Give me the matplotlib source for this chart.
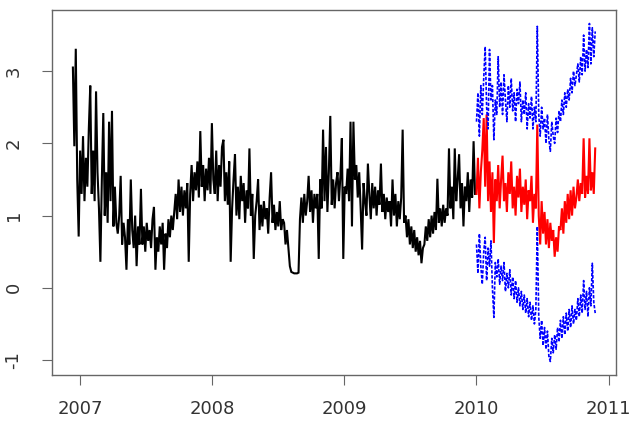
import numpy as np
import pandas as pd
import matplotlib
matplotlib.use('Agg')
import matplotlib.pyplot as plt

hist_start = '2006-12-12'
hist = [
    # Dec 2006 - Feb 2007
    3.05, 1.96, 3.31, 1.5, 0.71, 1.9, 1.3, 2.1, 1.2, 1.8, 1.4, 2.2, 2.8, 1.3, 1.9, 1.2, 2.72, 1.6,
    1.1, 0.36, 1.5, 2.42, 1.0, 1.6, 0.9, 2.3, 1.2, 2.45, 0.85, 1.4, 0.9,
    # spring / summer 2007
    0.75, 1.0, 1.55, 0.6, 0.9, 0.7, 0.25, 0.95, 0.6, 1.5, 0.8, 0.55, 1.0, 0.3, 0.85, 0.6, 1.37,
    0.6, 0.85, 0.5, 0.9, 0.65, 0.8, 0.55, 0.95, 1.12, 0.25, 0.7, 0.5, 0.85, 0.6, 0.9, 0.25, 0.75,
    0.55, 0.95, 0.7, 1.0, 0.8, 1.05,
    1.3, 0.95, 1.5, 1.05, 1.4, 1.0, 1.35, 1.1, 1.45, 0.36,
    # winter 2007/08
    1.3, 1.7, 1.2, 1.6, 1.35, 1.75, 1.25, 2.17, 1.4, 1.7, 1.2, 1.65, 1.35, 1.8, 1.3, 2.28, 1.5,
    1.3, 1.9, 1.2, 1.7, 1.4, 1.95, 2.05, 1.2, 1.6, 1.15, 1.75, 0.36,
    1.1, 1.5, 1.85, 1.0, 1.4, 0.95, 1.55, 1.2, 1.45, 0.9, 1.35, 1.1, 1.93, 1.0, 1.3, 0.4,
    # summer 2008 and the flat gap
    1.0, 1.2, 1.5, 0.8, 1.15, 0.85, 1.2, 0.95, 1.1, 0.75, 1.25, 1.6, 0.9, 1.15, 0.8, 1.05, 0.85,
    1.2, 0.8, 0.95,
    0.9, 0.6, 0.8, 0.55, 0.3,
    0.22, 0.21, 0.2, 0.2, 0.2, 0.21,
    # autumn 2008 - spring 2009
    0.95, 1.25, 0.9, 1.3, 1.0, 1.2, 1.55, 1.05, 1.35, 0.9, 1.3, 1.1,
    1.3, 0.4, 1.5, 1.1, 2.19, 1.2, 1.95, 1.05, 1.6, 2.38, 1.15, 1.5, 1.1, 1.45, 1.6, 1.2, 1.55,
    2.07, 0.4, 1.4,
    1.3, 1.65, 1.2, 2.3, 0.85, 2.3, 1.5, 1.7, 1.25, 1.6, 1.1, 0.53, 1.45,
    1.2, 1.0, 1.72, 1.3, 0.95, 1.45, 1.1, 1.4, 1.0, 1.35, 1.15, 1.72, 1.05, 1.3, 0.95, 1.25, 1.05,
    # summer - winter 2009
    1.2, 0.85, 1.5, 1.0, 1.3, 0.85, 1.2, 0.95, 1.25, 2.19, 0.9,
    1.0, 0.7, 0.95, 0.6, 0.85, 0.55, 0.8, 0.5, 0.7, 0.45, 0.65, 0.34, 0.55,
    0.6, 0.85, 0.65, 0.95, 0.7, 1.0, 0.75, 1.05, 0.8, 1.51, 0.9, 1.1, 0.85, 1.15, 0.9, 1.1,
    1.0, 1.93, 1.1, 1.4, 0.95, 1.93, 1.2, 1.5, 1.85, 1.1, 1.45, 0.85, 1.4, 1.2, 1.6, 1.05, 1.5,
    1.25, 2.03, 1.3,
]

# 2010 prediction and its upper / lower bounds, every 4 days
fcst_start = '2010-01-01'
fcst = [
    1.3, 1.8, 1.1, 1.6, 1.9, 2.35, 1.4, 2.4, 1.2, 1.75, 1.05, 1.6, 0.62, 1.5, 1.2,
    1.7, 1.1, 1.5, 1.83, 1.2, 1.45, 1.05, 1.6, 1.3, 1.75, 1.1, 1.4, 1.0, 1.55, 1.25, 1.65, 1.05,
    1.4, 1.15, 1.5, 0.95, 1.35, 1.2, 1.55, 0.9, 1.3, 1.1,
    2.26,
    1.0, 0.6, 1.2, 0.75, 1.05, 0.6, 0.95, 0.55, 0.9, 0.65, 0.8, 0.43, 0.7, 0.5, 0.85,
    0.8, 1.1, 0.75, 1.2, 0.9, 1.3, 0.95, 1.35, 1.0, 1.4, 1.1, 1.25, 1.5, 1.2, 1.45, 1.3, 2.07,
    1.25, 1.55, 1.3, 2.07, 1.35, 1.6, 1.3, 1.93,
]
upper = [
    2.3, 2.7, 2.1, 2.8, 2.4, 2.9, 3.34, 2.5, 2.2, 3.3, 2.6, 2.8, 2.05, 2.6, 2.4,
    3.2, 2.5, 2.85, 2.4, 2.95, 2.6, 2.3, 2.8, 2.5, 2.9, 2.45, 2.7, 2.3, 2.75, 2.55, 2.85, 2.3,
    2.6, 2.4, 2.7, 2.2, 2.55, 2.35, 2.65, 2.2, 2.5, 2.3,
    3.62,
    2.4, 2.1, 2.5, 2.2, 2.35, 2.0, 2.4, 2.05, 1.89, 2.3, 2.1, 2.0, 2.35, 2.15, 2.45,
    2.3, 2.6, 2.4, 2.7, 2.5, 2.75, 2.6, 2.9, 2.7, 3.0, 2.8, 2.95, 3.1, 2.85, 3.2, 2.95, 3.5,
    3.0, 3.3, 3.05, 3.66, 3.1, 3.6, 3.2, 3.55,
]
lower = [
    0.6, 0.2, 0.75, 0.3, 0.05, 0.5, 0.7, 0.1, 0.55, 0.3, 0.65, 0.0, -0.41, 0.35, 0.15,
    0.4, 0.05, 0.3, 0.1, 0.35, -0.05, 0.2, 0.0, 0.25, -0.1, 0.15, -0.15, 0.1, -0.2, 0.0, -0.25,
    -0.05, -0.3, -0.1, -0.35, -0.15, -0.4, -0.2, -0.45, -0.25, -0.5, -0.3,
    0.85,
    -0.4, -0.7, -0.45, -0.8, -0.55, -0.85, -0.6, -0.95, -1.02, -0.7, -0.9, -0.65, -0.85, -0.55, -0.75,
    -0.45, -0.7, -0.4, -0.65, -0.35, -0.6, -0.3, -0.55, -0.25, -0.5, -0.3, -0.45, -0.15, -0.4,
    -0.1, -0.35, 0.1, -0.3, -0.05, -0.4, 0.0, -0.25, 0.34, -0.2, -0.35,
]
year_ticks = [2007, 2008, 2009, 2010, 2011]
y_ticks = [-1, 0, 1, 2, 3]


def dec_year(start, n):
    d = pd.date_range(start, periods=n, freq='4D')
    ndays = np.where(d.is_leap_year, 366, 365)
    return d.year + (d.dayofyear - 1) / ndays


x_hist = dec_year(hist_start, len(hist))
x_fcst = dec_year(fcst_start, len(fcst))

fig = plt.figure(figsize=(6.31, 4.22), dpi=100)
ax = fig.add_axes([0.0824, 0.1114, 0.894, 0.865])

ax.plot(x_hist, hist, color='black', lw=1.5, solid_joinstyle='miter')
ax.plot(x_fcst, fcst, color='red', lw=1.5, solid_joinstyle='miter')
ax.plot(x_fcst, upper, color='blue', lw=1.2, ls=(0, (2, 1)))
ax.plot(x_fcst, lower, color='blue', lw=1.2, ls=(0, (2, 1)))

# R style 4% padding
allx = np.concatenate([x_hist, x_fcst])
ally = np.concatenate([hist, fcst, upper, lower])
xr = allx.max() - allx.min()
yr = ally.max() - ally.min()
ax.set_xlim(allx.min() - 0.04 * xr, allx.max() + 0.04 * xr)
ax.set_ylim(ally.min() - 0.04 * yr, ally.max() + 0.04 * yr)

ax.set_xticks(year_ticks)
ax.set_xticklabels([str(y) for y in year_ticks])
ax.set_yticks(y_ticks)
ax.set_yticklabels([str(v) for v in y_ticks], rotation=90, va='center')

for s in ax.spines.values():
    s.set_color('#666666')
    s.set_linewidth(1.0)
ax.tick_params(axis='both', length=7.2, width=0.8, color='#666666',
               labelcolor='#333333', labelsize=13)
ax.tick_params(axis='x', pad=11)
ax.tick_params(axis='y', pad=14)

fig.savefig('out.png', dpi=100)
